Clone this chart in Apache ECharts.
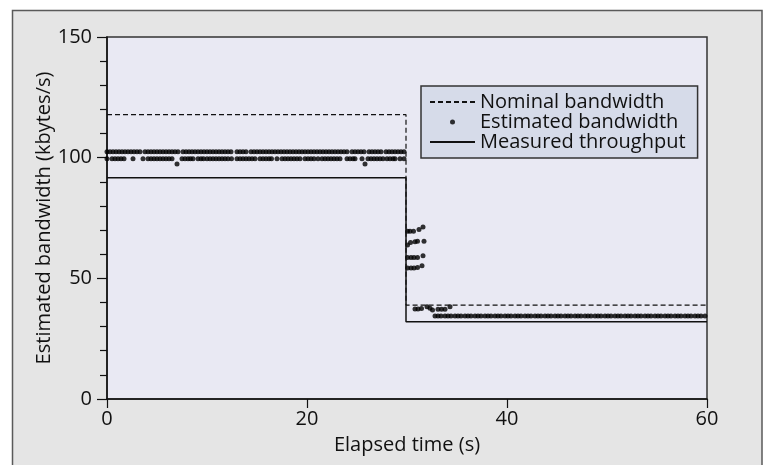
<!DOCTYPE html>
<html><head><meta charset="utf-8">
<script src="https://cdn.jsdelivr.net/npm/echarts/dist/echarts.min.js"></script>
<style>html,body{margin:0;padding:0;background:#fff}#c{width:767px;height:465px}</style>
</head><body><div id="c"></div><script>
// X axis ticks / Y axis ticks
const xTicks = [0, 20, 40, 60];
const yTicks = [0, 50, 100, 150];

// Nominal bandwidth (dashed step)
const nominalT = [0, 29.9, 29.9, 60];
const nominalV = [117.8, 117.8, 38.9, 38.9];

// Measured throughput (solid step)
const measuredT = [0, 29.9, 29.9, 60];
const measuredV = [91.7, 91.7, 32.0, 32.0];

// Estimated bandwidth: upper row in phase 1
const estUpperLevel = 102.5;
const estUpperT = [0,0.3,0.6,0.9,1.2,1.5,1.8,2.1,2.4,2.7,3.0,3.3,3.8,4.1,4.4,4.7,5.0,5.3,5.6,5.9,6.2,6.5,6.8,7.1,
  7.6,7.9,8.2,8.5,8.8,9.1,9.4,9.7,10.0,10.3,10.6,10.9,11.2,11.5,11.8,12.1,12.4,13.0,13.3,13.6,13.9,
  14.4,14.7,15.0,15.3,15.6,15.9,16.2,16.5,16.8,17.1,17.4,17.7,18.0,18.3,18.6,18.9,19.2,19.5,19.8,20.1,20.4,20.7,
  21.0,21.3,21.6,21.9,22.2,22.5,22.8,23.1,23.4,23.7,24.0,24.5,24.8,25.1,25.4,25.7,26.2,26.5,26.8,27.1,27.4,
  27.9,28.2,28.5,28.8,29.1,29.4,29.7];
// Estimated bandwidth: lower row in phase 1
const estLowerLevel = 99.5;
const estLowerT = [0.0,0.5,0.8,1.1,1.4,1.7,2.6,3.6,4.1,4.4,4.7,5.0,5.3,5.6,5.9,6.2,6.5,7.5,7.8,8.1,8.35,8.6,
  9.1,9.4,9.65,10.0,10.3,10.6,10.9,11.2,11.5,11.8,12.1,12.45,13.0,13.3,13.6,13.9,14.2,14.5,14.8,
  15.3,15.6,15.9,16.2,16.45,17.0,17.5,17.8,18.1,18.4,18.7,19.0,19.3,19.8,20.1,20.4,20.7,21.1,
  21.5,21.8,22.1,22.4,22.7,23.0,23.3,24.0,24.3,24.6,24.8,25.5,26.1,26.4,26.7,27.0,27.3,27.6,
  28.0,28.3,28.6,28.8,29.3,29.7];
// Estimated bandwidth: isolated dips
const estDips = [[7.0, 97.4], [25.8, 97.4]];
// Estimated bandwidth: transition cluster after the drop
const estTransition = [
  [30.05,69.5],[30.3,69.5],[30.65,69.5],[31.2,70.2],[31.6,71.3],
  [30.05,63.8],[30.35,64.8],[30.8,65.2],[31.05,65.4],[31.7,65.4],
  [30.05,58.6],[30.4,58.6],[30.7,58.6],[31.05,58.6],[31.6,59.4],
  [30.05,54.3],[30.4,54.3],[30.7,54.3],[31.05,54.5],[31.5,55.2],
  [30.8,37.3],[31.1,37.3],[31.45,37.5],[32.0,38.2],[32.3,37.6],[32.55,36.9],
  [33.1,37.2],[33.45,37.2],[33.8,37.2],[34.3,38.2]
];
// Estimated bandwidth: phase 2 row
const estPhase2Level = 34.4;
const estPhase2T = [32.8,33.1,33.4,33.8,34.1,34.4,34.8,35.1,35.4,35.8,36.1,36.4,36.8,37.1,37.4,37.8,38.1,38.4,38.8,
  39.1,39.4,39.8,40.1,40.4,40.8,41.1,41.4,41.8,42.1,42.4,42.8,43.1,43.4,43.8,44.1,44.4,44.8,45.1,45.4,45.8,
  46.1,46.4,46.8,47.1,47.4,47.8,48.1,48.4,48.8,49.1,49.4,49.8,50.1,50.4,50.8,51.1,51.4,51.8,52.1,52.4,52.8,
  53.1,53.4,53.8,54.1,54.4,54.8,55.1,55.4,55.8,56.1,56.4,56.8,57.1,57.4,57.8,58.1,58.4,58.8,59.1,59.4,59.8];

const seriesNames = ['Nominal bandwidth', 'Estimated bandwidth', 'Measured throughput'];

const FONT = '"Open Sans", sans-serif';
const zip = (a, b) => a.map((v, i) => [v, b[i]]);
const estData = []
  .concat(estUpperT.map(t => [t, estUpperLevel]))
  .concat(estLowerT.map(t => [t, estLowerLevel]))
  .concat(estDips)
  .concat(estTransition)
  .concat(estPhase2T.map(t => [t, estPhase2Level]));

const chart = echarts.init(document.getElementById('c'), null, {renderer: 'canvas'});
chart.setOption({
  animation: false,
  backgroundColor: 'transparent',
  textStyle: {fontFamily: FONT},
  graphic: [{
    type: 'rect', z: -10, silent: true,
    shape: {x: 12.5, y: 10.5, width: 749.5, height: 470},
    style: {fill: '#e5e5e5', stroke: '#5a5a5a', lineWidth: 1.5}
  }],
  grid: {
    left: 107, top: 37, right: 60, bottom: 66,
    show: true, backgroundColor: '#e9e9f3', borderColor: '#333', borderWidth: 1.5
  },
  legend: {
    orient: 'vertical', left: 421, top: 86,
    backgroundColor: '#d6dbe9', borderColor: '#333', borderWidth: 1.5, borderRadius: 0,
    padding: [6, 12, 6, 8], itemGap: 0, itemWidth: 45, itemHeight: 5,
    data: [
      {name: seriesNames[0], itemStyle: {opacity: 0}},
      {name: seriesNames[1]},
      {name: seriesNames[2], itemStyle: {opacity: 0}}
    ],
    textStyle: {fontFamily: FONT, fontSize: 20, color: '#111', lineHeight: 20}
  },
  xAxis: {
    type: 'value', min: xTicks[0], max: xTicks[xTicks.length - 1], interval: 20,
    name: 'Elapsed time (s)', nameLocation: 'middle', nameGap: 36, nameMoveOverlap: false,
    nameTextStyle: {fontFamily: FONT, fontSize: 20, color: '#111'},
    axisLine: {show: true, lineStyle: {color: '#111', width: 1.5}},
    axisTick: {show: true, length: 9, lineStyle: {color: '#111', width: 1.2}},
    axisLabel: {fontFamily: FONT, fontSize: 20, color: '#111', margin: 10},
    splitLine: {show: false}
  },
  yAxis: {
    type: 'value', min: yTicks[0], max: yTicks[yTicks.length - 1], interval: 50,
    name: 'Estimated bandwidth (kbytes/s)', nameLocation: 'middle', nameGap: 53, nameMoveOverlap: false,
    nameTextStyle: {fontFamily: FONT, fontSize: 20, color: '#111'},
    axisLine: {show: true, lineStyle: {color: '#111', width: 1.5}},
    axisTick: {show: true, length: 10, lineStyle: {color: '#111', width: 1.2}},
    minorTick: {show: true, splitNumber: 5, length: 7, lineStyle: {color: '#111', width: 1.2}},
    axisLabel: {fontFamily: FONT, fontSize: 20, color: '#111', margin: 15},
    splitLine: {show: false}
  },
  series: [
    {
      name: seriesNames[0], type: 'line', data: zip(nominalT, nominalV),
      symbol: 'none', color: '#111',
      lineStyle: {color: '#111', width: 1.2, type: [5, 3]}
    },
    {
      name: seriesNames[1], type: 'scatter', data: estData,
      symbol: 'circle', symbolSize: 5, color: '#000',
      itemStyle: {color: '#000'}
    },
    {
      name: seriesNames[2], type: 'line', data: zip(measuredT, measuredV),
      symbol: 'none', color: '#111',
      lineStyle: {color: '#111', width: 1.5, type: 'solid'}
    }
  ]
});
</script></body></html>
